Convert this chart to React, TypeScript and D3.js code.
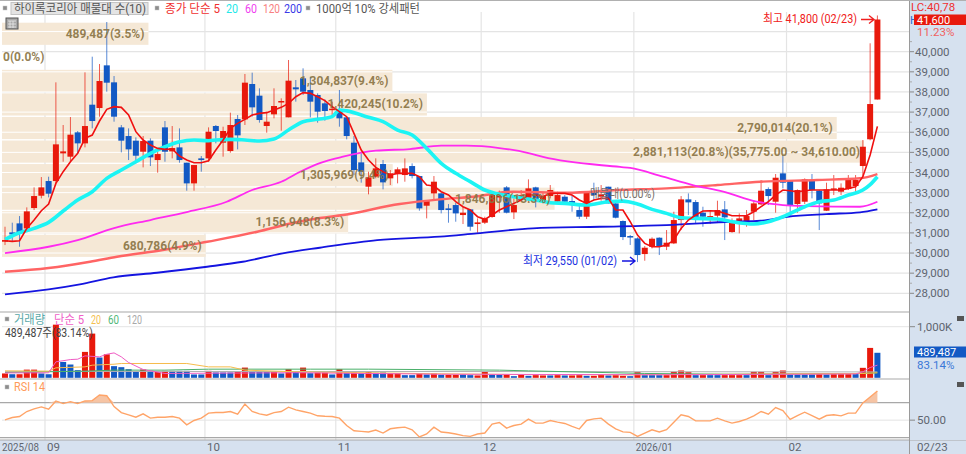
import React from 'react';
import * as d3 from 'd3';

const W = 966;
const H = 454;

// [open, high, low, close], one per trading day
const candles: [number, number, number, number][] = [
  [30562, 31307, 30396, 30645], [31026, 31506, 30562, 30926], [31473, 31837, 30313, 31042], [31224, 32268, 31175, 32069],
  [32235, 33261, 32135, 32831], [32847, 33774, 32715, 33261], [33576, 33791, 32764, 32947], [33576, 38478, 33460, 35398],
  [34950, 36358, 34536, 35050], [34785, 36755, 34536, 35878], [35994, 36060, 34950, 35447], [35447, 38975, 35248, 36308],
  [37368, 39753, 36192, 36557], [37203, 39388, 36772, 38544], [39322, 41475, 38014, 38461], [38478, 38792, 36524, 36772],
  [36242, 36358, 35000, 35580], [35811, 36192, 34619, 35149], [35580, 35745, 34454, 34834], [35033, 35811, 34255, 35563],
  [35580, 35696, 34321, 34752], [34619, 35033, 33990, 34917], [36242, 36557, 34536, 35033], [35050, 36308, 34702, 35215],
  [35248, 36192, 34486, 34619], [34487, 34487, 33096, 33460], [33460, 34371, 33096, 34371], [34702, 34818, 34040, 34619],
  [34702, 36242, 34536, 36027], [36309, 36359, 35448, 36061], [35481, 36276, 34786, 36061], [35067, 36972, 34984, 36359],
  [36657, 36856, 35150, 35845], [36640, 38893, 36359, 38462], [38396, 38959, 36773, 37236], [37816, 38180, 36475, 36607],
  [36309, 37021, 35978, 36524], [36889, 38180, 36690, 37303], [37518, 37684, 36077, 37551], [36740, 39588, 36740, 38561],
  [38230, 38594, 37518, 38131], [38677, 39174, 37849, 38015], [38098, 38760, 36740, 37518], [37849, 37932, 36475, 37021],
  [37435, 37634, 36574, 37054], [37120, 37518, 36856, 37170], [37137, 38098, 36276, 36690], [36740, 36773, 35647, 35812],
  [35481, 35812, 33875, 34123], [34504, 34951, 33494, 34040], [33295, 34040, 32915, 33759], [33792, 34703, 33709, 34206],
  [34421, 34620, 33163, 33510], [33709, 34123, 33378, 33958], [33924, 34256, 33461, 34157], [33874, 34702, 33543, 34205],
  [34321, 34454, 33708, 33824], [33824, 33824, 32102, 32218], [32350, 32632, 31721, 32582], [32963, 33824, 32632, 33543],
  [32963, 32996, 31970, 32135], [32218, 32433, 31506, 32135], [32384, 32500, 31556, 31970], [31887, 32300, 31440, 32003],
  [32168, 32168, 31108, 31307], [31440, 31721, 31009, 31522], [31506, 31804, 31440, 31721], [31790, 32965, 31750, 32965],
  [32760, 33100, 32000, 32960], [33261, 33327, 31970, 32003], [32019, 32715, 31688, 32384], [32632, 33129, 32549, 32880],
  [32632, 33659, 32549, 33212], [33261, 33294, 32268, 32632], [32599, 32996, 32466, 32831], [32831, 33377, 32715, 33129],
  [32549, 33046, 32500, 32880], [32798, 32880, 32466, 32549], [32583, 32880, 32052, 32433], [32135, 32384, 31688, 31804],
  [31804, 33046, 31688, 33046], [33000, 33493, 32632, 32880], [32798, 33377, 32599, 32914], [33294, 33294, 32466, 32466],
  [32466, 32500, 31721, 31754], [31590, 31620, 30645, 30793], [30844, 30898, 30400, 30778], [30728, 30778, 29550, 29900],
  [29949, 30347, 29618, 30264], [30314, 30778, 30230, 30711], [30761, 30778, 29900, 30314], [30314, 31142, 30148, 30513],
  [30479, 32052, 30446, 31638], [31638, 32831, 31142, 32665], [32665, 32963, 31887, 32516], [32533, 32632, 31473, 31721],
  [32003, 32300, 31307, 31804], [31721, 32135, 31440, 31837], [31854, 32599, 31506, 32135], [32168, 32582, 30645, 31771],
  [31042, 31721, 31009, 31506], [31440, 31970, 30976, 31721], [31440, 32135, 31307, 31837], [32052, 32632, 31638, 32466],
  [32417, 33626, 32384, 33096], [33178, 33261, 32384, 32831], [32549, 33924, 32003, 33741], [33957, 34868, 33212, 33493],
  [33592, 33592, 31837, 32384], [32433, 33162, 32003, 33129], [32549, 33708, 32433, 33659], [33592, 33924, 32715, 33129],
  [33096, 33129, 31142, 32466], [32102, 33493, 32086, 33162], [33162, 33874, 32880, 33211], [33046, 33460, 32880, 33245],
  [33178, 33874, 33129, 33708], [33327, 33874, 32963, 33626], [34322, 35613, 33790, 35280], [35650, 40417, 35600, 37400],
  [37625, 41800, 37625, 41600],
];

// moving averages as [day index, price]
const ma5: [number, number][] = [
  [0, 30612], [1, 30580], [2, 30612], [3, 31224], [4, 31640], [5, 32100], [6, 32433], [7, 33460], [8, 34040], [9, 34536],
  [10, 34950], [11, 35696], [12, 35861], [13, 36557], [14, 37136], [15, 37269], [16, 37236], [17, 36855], [18, 36027], [19, 35613],
  [20, 35364], [21, 35199], [22, 35149], [23, 35166], [24, 34818], [25, 34619], [26, 34487], [27, 34487], [28, 34586], [29, 35117],
  [30, 35614], [31, 36193], [32, 36442], [33, 36640], [34, 36856], [35, 36938], [36, 36972], [37, 37104], [38, 37236], [39, 37435],
  [40, 37766], [41, 37965], [42, 37932], [43, 37766], [44, 37568], [45, 37270], [46, 37021], [47, 36773], [48, 35945], [49, 35117],
  [50, 34620], [51, 34256], [52, 34040], [53, 33875], [54, 33958], [55, 33958], [56, 33958], [57, 33792], [58, 33378], [59, 33328],
  [60, 33047], [61, 32881], [62, 32550], [63, 32302], [64, 32136], [65, 31805], [66, 31672], [67, 31888], [68, 32136], [69, 32302],
  [70, 32467], [71, 32633], [72, 32881], [73, 32881], [74, 32798], [75, 32964], [76, 32964], [77, 32964], [78, 32881], [79, 32633],
  [80, 32467], [81, 32633], [82, 32716], [83, 32716], [84, 32136], [85, 32135], [86, 31556], [87, 30893], [88, 30479], [89, 30314],
  [90, 30314], [91, 30396], [92, 30645], [93, 31224], [94, 31638], [95, 31887], [96, 32086], [97, 32102], [98, 32086], [99, 31970],
  [100, 31854], [101, 31854], [102, 31854], [103, 32052], [104, 32301], [105, 32549], [106, 32880], [107, 33129], [108, 33096], [109, 33046],
  [110, 33096], [111, 33129], [112, 33129], [113, 33129], [114, 33129], [115, 33129], [116, 33212], [117, 33294], [118, 33791], [119, 34870],
  [120, 36290],
];
const ma20: [number, number][] = [
  [0, 30678], [2, 31009], [4, 31224], [6, 31522], [8, 32086], [10, 32632], [12, 33046], [14, 33708], [16, 34122], [18, 34536],
  [20, 34950], [22, 35281], [24, 35530], [26, 35613], [28, 35580], [29, 35614], [31, 35647], [33, 35614], [35, 35564], [37, 35663],
  [39, 36110], [41, 36520], [43, 36640], [45, 36773], [46, 37100], [47, 37060], [50, 36740], [52, 36524], [54, 36110], [56, 35862],
  [58, 35200], [60, 34450], [62, 33958], [64, 33544], [66, 33130], [68, 32915], [70, 32800], [73, 32633], [75, 32500], [77, 32467],
  [80, 32384], [83, 32550], [85, 32580], [87, 32433], [89, 32168], [91, 31970], [93, 31754], [95, 31720], [98, 31688], [100, 31556],
  [103, 31440], [105, 31556], [107, 31800], [110, 32300], [112, 32550], [114, 32630], [116, 32880], [118, 33130], [119, 33400], [120, 33791],
];
const ma60: [number, number][] = [
  [0, 30000], [6, 30312], [10, 30645], [15, 31240], [20, 31640], [25, 32035], [30.5, 32548], [34, 33130], [38, 33542], [40.6, 34040],
  [43.3, 34470], [46.5, 34784], [51, 35082], [55.7, 35166], [60, 35330], [63.5, 35330], [68, 35215], [72, 34967], [74, 34770], [84.6, 34276],
  [86, 34226], [90.5, 33790], [94.6, 33378], [98.8, 33045], [103.4, 32548], [107, 32384], [110.3, 32334], [117.6, 32300], [120, 32548],
];
const ma120: [number, number][] = [
  [0, 29070], [6, 29255], [11.7, 29567], [15.4, 29816], [21.7, 30150], [27.8, 30560], [34.7, 31058], [39.6, 31490], [43.3, 31738], [46.5, 31887],
  [54.3, 32434], [59.8, 32667], [64.4, 32796], [69.9, 33045], [77.3, 32995], [84.2, 33130], [91, 33214], [98, 33378], [103.9, 33542], [111.7, 33627],
  [117.6, 33711], [120, 33922],
];
const ma200: [number, number][] = [
  [0, 27947], [6, 28196], [10.3, 28445], [14.9, 28792], [20.9, 29021], [27.8, 29319], [32.7, 29567], [38.2, 29985], [43.3, 30263], [51.2, 30645],
  [59.8, 30810], [64.9, 30979], [72.6, 31227], [81.8, 31306], [91, 31391], [100, 31555], [103.9, 31604], [107.6, 31803], [113, 31937], [117.6, 32021],
  [120, 32170],
];

// volume in thousands of shares, and whether the bar was drawn red or blue
const volumes = [
  85, 70, 70, 160, 160, 85, 70, 1040, 310, 260, 150, 507, 865, 397, 460, 228, 208, 169, 117, 162,
  136, 117, 136, 136, 136, 136, 65, 65, 136, 104, 104, 104, 117, 200, 117, 117, 117, 117, 85, 169,
  117, 200, 91, 104, 104, 65, 169, 104, 104, 91, 117, 98, 104, 85, 91, 52, 52, 85, 65, 85,
  59, 59, 59, 65, 52, 46, 117, 65, 59, 72, 32, 59, 39, 52, 46, 46, 52, 46, 46, 52,
  39, 39, 59, 46, 52, 39, 32, 110, 52, 52, 52, 52, 117, 143, 110, 52, 52, 52, 52, 52,
  52, 52, 52, 117, 117, 52, 117, 143, 65, 65, 65, 65, 72, 65, 72, 72, 72, 72, 195, 585,
  489.487,
];
const volumeColors =
  'RBRRRBBRBB' + 'BRRBRBBBBR' + 'BRRBBBBBRB' + 'BBRRBBBRBR' + 'BRBRRBRBRB' + 'RBBRRBBRBR' +
  'BRRBBRRBBR' + 'BRBRRBRBRR' + 'BRRBRRBRBB' + 'BRRRRBRBBR' + 'RRBRRBRRBB' + 'BBRBRRRBRR' + 'B';

const vol5: [number, number][] = [
  [0, 95], [6, 98], [7, 312], [9, 357], [10, 364], [11, 429], [13, 410], [14, 461], [15, 487], [16, 410], [17, 299], [19, 162],
  [22, 85], [40, 100], [60, 70], [90, 60], [110, 70], [117, 75], [118, 117], [119, 201], [120, 247],
];
const vol20: [number, number][] = [
  [0, 136], [6, 130], [7, 195], [11, 214], [12, 247], [15, 266], [16, 280], [25, 280], [28, 214], [31, 214], [33, 150], [40, 117],
  [50, 98], [60, 78], [70, 65], [85, 59], [100, 70], [118, 85], [120, 98],
];
const vol60: [number, number][] = [
  [0, 104], [11, 130], [15, 150], [22, 150], [28, 169], [42, 169], [50, 169], [68, 150], [72, 136], [78, 117], [88, 85], [100, 70],
  [118, 85], [120, 98],
];
const vol120: [number, number][] = [[0, 125], [70, 122], [120, 115]];

const rsi = [
  50.4, 53, 54.2, 59.9, 62.9, 65.2, 62.5, 72, 69, 71.2, 69, 72, 72.4, 78.8, 78, 65.5, 58.7, 56.1, 53.4, 57.2,
  52.3, 53.4, 53.4, 54.2, 52.3, 44.7, 49.6, 52.3, 58, 58.7, 58.7, 59.9, 56.8, 68.5, 59.9, 57.2, 55.7, 58.7, 59.9, 64.9,
  61.8, 59.9, 58, 55, 54.5, 54.2, 52.3, 43.9, 37.9, 37.1, 36.4, 38.6, 35.2, 40.1, 41.3, 42, 39, 30.7, 34.1, 42,
  36.4, 35.6, 34.1, 32.2, 31.4, 34.1, 35.2, 45.5, 47.3, 40.9, 43.9, 45.5, 51.1, 46.6, 46.6, 49.6, 47.7, 46.2, 42.8, 39.8,
  49.6, 51.5, 52.3, 45.5, 40.1, 36.5, 36, 31.4, 35.2, 39, 36.4, 39, 47.7, 56.1, 54.2, 49.2, 49.2, 49.2, 52.3, 49.2,
  46.6, 48.5, 51.1, 54.9, 59.9, 56.8, 64.4, 61, 50.8, 55.3, 59.1, 55.3, 51.1, 55.3, 56.1, 54.9, 58, 58, 69.7, 76.5,
  83.4,
];

// volume profile, top band first
const profileVolumes = [489487, 0, 1304837, 1420245, 2790014, 2881113, 1305969, 1846806, 1156948, 680786];
const profileLabels = [
  '489,487(3.5%)', '0(0.0%)', '1,304,837(9.4%)', '1,420,245(10.2%)', '2,790,014(20.1%)',
  '2,881,113(20.8%)(35,775.00 ~ 34,610.00)', '1,305,969(9.4%)', '1,846,806(13.3%)', '1,156,948(8.3%)', '680,786(4.9%)',
];

const priceTicks = d3.range(28000, 41000, 1000);
const monthLabels = ['2025/08', '09', '10', '11', '12', '2026/01', '02'];
const monthStarts = [0, 6, 28, 46, 66, 87, 108];

const font = 'Roboto, "Noto Sans CJK KR", sans-serif';
const RED = '#e8190c';
const BLUE = '#1259c4';
const GRID = '#e4e4e4';
const AXIS_BG = '#d6e1ef';
const AXIS_TEXT = '#5f6670';
const PROFILE = '#f5e8d6';

const x = d3.scaleLinear().domain([0, 120]).range([5, 877.4]);
const y = d3.scaleLinear().domain([28000, 40000]).range([293.3, 51.7]);
const yVol = d3.scaleLinear().domain([0, 1000]).range([377.8, 326.7]);
const yRsi = d3.scaleLinear().domain([30, 70]).range([437.6, 402.7]);
const profileX = d3.scaleLinear().domain([0, 2881113]).range([2, 864]);
const profileY = d3.scaleBand<number>().domain(d3.range(10)).range([22.7, 256.9]).paddingInner(0.06);

const priceLine = d3.line<[number, number]>().x((d) => x(d[0])).y((d) => y(d[1]));
const priceCurve = d3.line<[number, number]>().x((d) => x(d[0])).y((d) => y(d[1])).curve(d3.curveMonotoneX);
const volLine = d3.line<[number, number]>().x((d) => x(d[0])).y((d) => yVol(d[1]));
const rsiLine = d3.line<number>().x((_, i) => x(i)).y((d) => yRsi(d));
const rsiArea = d3.area<number>().x((_, i) => x(i)).y0(yRsi(70)).y1((d) => yRsi(Math.max(d, 70)));

const Square = ({ px, py }: { px: number; py: number }) => (
  <rect x={px} y={py} width={4} height={4} fill="#8c8c8c" stroke="#c8c8c8" strokeWidth={0.5} />
);

// w squeezes the text to the width it has in the reference
const Legend = ({ px, py, fill, w, size = 12, children }: { px: number; py: number; fill: string; w?: number; size?: number; children: React.ReactNode }) => (
  <text x={px} y={py} fill={fill} fontSize={size} textLength={w} lengthAdjust={w ? 'spacingAndGlyphs' : undefined}>{children}</text>
);

export default function App() {
  const gridX = monthStarts.slice(1).map((d) => x(d - 0.5));
  return (
    <svg width={W} height={H} style={{ position: 'absolute', left: 0, top: 0, background: '#fff' }} fontFamily={font}>
      {/* grid */}
      {[41000, ...priceTicks].map((t) => (
        <line key={t} x1={2} x2={909} y1={y(t)} y2={y(t)} stroke={GRID} strokeWidth={1.2} />
      ))}
      {gridX.map((gx) => (
        <line key={gx} x1={gx} x2={gx} y1={12} y2={440} stroke={GRID} strokeWidth={1.2} />
      ))}

      {/* volume profile */}
      {profileVolumes.map((v, i) => (
        <rect key={i} x={2} y={profileY(i)} width={profileX(v) - 2} height={profileY.bandwidth()} fill={PROFILE} />
      ))}
      {profileVolumes.map((v, i) =>
        [41000, ...priceTicks]
          .filter((t) => y(t) >= profileY(i)! && y(t) <= profileY(i)! + profileY.bandwidth())
          .map((t) => <line key={`${i}-${t}`} x1={2} x2={profileX(v)} y1={y(t)} y2={y(t)} stroke="#fff" strokeWidth={1} />),
      )}

      {/* candles */}
      <g>
        {candles.map(([o, h, l, c], i) => {
          const col = c >= o ? RED : BLUE;
          return (
            <g key={i}>
              <line x1={x(i)} x2={x(i)} y1={y(h)} y2={y(l)} stroke={col} strokeOpacity={0.7} strokeWidth={1} />
              <rect x={x(i) - 3} y={y(Math.max(o, c))} width={6} height={Math.max(1.5, Math.abs(y(o) - y(c)))} fill={col} />
            </g>
          );
        })}
      </g>

      {/* moving averages */}
      <g fill="none">
        <path d={priceCurve(ma200)!} stroke="#1414e0" strokeWidth={1.8} />
        <path d={priceCurve(ma120)!} stroke="#ff6464" strokeWidth={2.4} />
        <path d={priceCurve(ma60)!} stroke="#ff2af0" strokeWidth={1.8} />
        <path d={priceCurve(ma20)!} stroke="#1cf4f4" strokeWidth={3.6} />
        <path d={priceLine(ma5)!} stroke="#f01010" strokeWidth={1.6} />
      </g>

      {/* profile labels */}
      {profileVolumes.map((v, i) => (
        <text
          key={i}
          x={v === 0 ? 3 : profileX(v) - 4}
          y={profileY(i)! + profileY.bandwidth() / 2 + 4}
          textAnchor={v === 0 ? 'start' : 'end'}
          fontSize={12}
          fontWeight={700}
          fill="#8a7444"
          fillOpacity={0.92}
        >
          {profileLabels[i]}
        </text>
      ))}
      <Legend px={590} py={198} fill="#77706a" w={65}>매물대(0.00%)</Legend>

      {/* high / low notes */}
      <Legend px={763} py={23} fill="#f02020" w={94}>최고 41,800 (02/23)</Legend>
      <path d="M861 19.5H873M869 15.5l5 4-5 4" fill="none" stroke="#f02020" strokeWidth={1.4} />
      <Legend px={523} py={264.5} fill="#2030e0" w={94}>최저 29,550 (01/02)</Legend>
      <path d="M622 261H634M630 257l5 4-5 4" fill="none" stroke="#1414e0" strokeWidth={1.4} />

      {/* price legend */}
      <line x1={0} x2={W} y1={0.5} y2={0.5} stroke="#b0b0b0" />
      <rect x={11} y={2.5} width={137} height={12} fill="#e4e4e4" stroke="#c4c4c4" />
      <Square px={3} py={6} />
      <Legend px={14} py={13} fill="#555" w={132}>하이록코리아 매물대 수(10)</Legend>
      <Square px={155} py={6} />
      <Legend px={165} py={13} fill="#f03030" w={55}>종가 단순 5</Legend>
      <Legend px={226} py={13} fill="#22e8e8" w={12}>20</Legend>
      <Legend px={245} py={13} fill="#f040f0" w={12}>60</Legend>
      <Legend px={263} py={13} fill="#f88080" w={17}>120</Legend>
      <Legend px={284} py={13} fill="#3a3ae8" w={18}>200</Legend>
      <Square px={306} py={6} />
      <Legend px={316} py={13} fill="#555" w={104}>1000억 10% 강세패턴</Legend>
      <rect x={6} y={18} width={12} height={11} fill="#a8a8a8" stroke="#555" />
      <path d="M8 21h8M8 24h8M8 27h8M10 21v7M13 21v7" stroke="#e8e8e8" strokeWidth={0.8} />

      {/* volume panel */}
      <line x1={0} x2={909} y1={312} y2={312} stroke="#a8a8a8" strokeWidth={1.2} />
      <line x1={2} x2={909} y1={yVol(1000)} y2={yVol(1000)} stroke={GRID} />
      <rect x={0} y={378} width={909} height={2} fill="#d4d4d4" />
      {volumes.map((v, i) => (
        <rect
          key={i}
          x={x(i) - 3}
          y={yVol(v)}
          width={6}
          height={yVol(0) - yVol(v)}
          fill={volumeColors[i] === 'R' ? RED : BLUE}
        />
      ))}
      <g fill="none" strokeWidth={1}>
        <path d={volLine(vol120)!} stroke="#b0b0b0" />
        <path d={volLine(vol60)!} stroke="#4ab06a" />
        <path d={volLine(vol20)!} stroke="#f6bc4c" />
        <path d={volLine(vol5)!} stroke="#f05cc4" />
      </g>
      <Square px={5} py={317} />
      <Legend px={14} py={324} fill="#58a8a8" w={31}>거래량</Legend>
      <Legend px={54} py={324} fill="#f060c8" w={30}>단순 5</Legend>
      <Legend px={91} py={324} fill="#f4c050" w={10}>20</Legend>
      <Legend px={108} py={324} fill="#50b878" w={11}>60</Legend>
      <Legend px={127} py={324} fill="#a8a8a8" w={15}>120</Legend>
      <Legend px={5} py={337} fill="#444" w={88}>489,487주(83.14%)</Legend>

      {/* rsi panel */}
      <line x1={2} x2={909} y1={yRsi(50)} y2={yRsi(50)} stroke={GRID} />
      <line x1={0} x2={909} y1={yRsi(70)} y2={yRsi(70)} stroke="#a8a8a8" strokeWidth={1.3} />
      <line x1={0} x2={909} y1={yRsi(30)} y2={yRsi(30)} stroke="#a8a8a8" strokeWidth={1.3} />
      <path d={rsiArea(rsi)!} fill="#f6c4a4" />
      <path d={rsiLine(rsi)!} fill="none" stroke="#ffa468" strokeWidth={1.4} />
      <Square px={5} py={385} />
      <Legend px={14} py={391} fill="#ff9a58" w={31}>RSI 14</Legend>

      {/* date axis */}
      <rect x={0} y={440} width={W} height={14} fill={AXIS_BG} />
      <line x1={0} x2={W} y1={440} y2={440} stroke="#a8a8a8" strokeWidth={1.2} />
      {monthLabels.map((m, i) => (
        <text
          key={m}
          x={i === 0 ? 2 : gridX[i - 1] + 2}
          y={451}
          fontSize={11.5}
          fill={AXIS_TEXT}
          textLength={m.length > 2 ? 37 : undefined}
          lengthAdjust="spacingAndGlyphs"
        >
          {m}
        </text>
      ))}

      {/* right axis */}
      <rect x={910} y={1} width={56} height={439} fill={AXIS_BG} />
      <line x1={909.5} x2={909.5} y1={1} y2={454} stroke="#9a9a9a" />
      {priceTicks.map((t) => (
        <g key={t}>
          <line x1={910} x2={914} y1={y(t)} y2={y(t)} stroke="#888" />
          <line x1={910} x2={912} y1={y(t + 500)} y2={y(t + 500)} stroke="#aaa" />
          <text x={915} y={y(t) + 4} fontSize={11.5} fill={AXIS_TEXT}>{d3.format(',')(t)}</text>
        </g>
      ))}
      <Legend px={911} py={10.5} fill="#f03030" size={11.5}>LC:40,78</Legend>
      <Legend px={910} py={23.5} fill="#2a6ad0" size={11}>H</Legend>
      <rect x={914} y={14.5} width={52} height={10.5} fill={RED} />
      <Legend px={917} py={23.5} fill="#fff" size={11}>41,600</Legend>
      <Legend px={917} py={36} fill="#f06060" size={11.5}>11.23%</Legend>

      <line x1={910} x2={915} y1={yVol(1000)} y2={yVol(1000)} stroke="#888" />
      <Legend px={917} py={yVol(1000) + 4} fill={AXIS_TEXT} size={11.5}>1,000K</Legend>
      <rect x={914} y={346.5} width={52} height={11} fill={BLUE} />
      <Legend px={917} py={356} fill="#fff" size={11}>489,487</Legend>
      <Legend px={917} py={368.5} fill="#3a78d8" size={11.5}>83.14%</Legend>
      <rect x={957} y={316} width={7} height={5} fill="#555" />

      <line x1={910} x2={915} y1={yRsi(50)} y2={yRsi(50)} stroke="#888" />
      <Legend px={917} py={yRsi(50) + 4} fill={AXIS_TEXT} size={11.5}>50.00</Legend>
      <rect x={957} y={382} width={7} height={5} fill="#555" />
      <Legend px={917} py={451} fill={AXIS_TEXT} size={11.5}>02/23</Legend>
    </svg>
  );
}
